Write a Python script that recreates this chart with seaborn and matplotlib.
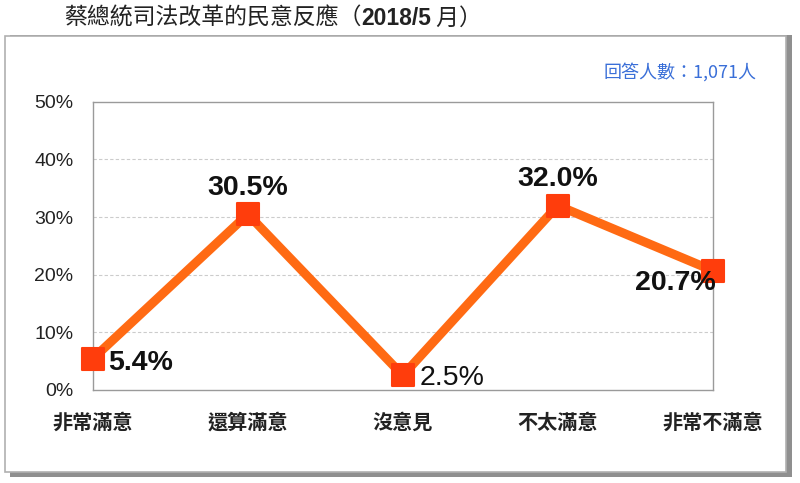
import matplotlib
matplotlib.use('Agg')
import matplotlib.pyplot as plt
import seaborn as sns
import pandas as pd
from matplotlib.patches import Rectangle
from matplotlib.ticker import FuncFormatter

# 資料
categories = ['非常滿意', '還算滿意', '沒意見', '不太滿意', '非常不滿意']
values = [5.4, 30.5, 2.5, 32.0, 20.7]
labels = ['5.4%', '30.5%', '2.5%', '32.0%', '20.7%']
title_main = '蔡總統司法改革的民意反應（'
title_bold = '2018/5'
title_end = ' 月）'
note = '回答人數：1,071人'

sns.set_theme(style='white')
plt.rcParams['font.family'] = ['Noto Sans CJK TC', 'DejaVu Sans']

df = pd.DataFrame({'cat': categories, 'pos': range(len(categories)), 'val': values})

fig = plt.figure(figsize=(8, 4.83), dpi=100)

# 外框 + 陰影
fig.patches.append(Rectangle((0.012, 0.012), 0.978, 0.915, transform=fig.transFigure,
                             facecolor='#8f8f8f', edgecolor='none', zorder=0))
fig.patches.append(Rectangle((0.006, 0.022), 0.976, 0.903, transform=fig.transFigure,
                             facecolor='white', edgecolor='#b0b0b0', lw=1.2, zorder=1))

ax = fig.add_axes([0.116, 0.193, 0.775, 0.596])
ax.set_zorder(2)
ax.patch.set_alpha(0)

sns.lineplot(data=df, x='pos', y='val', ax=ax, color='#FF6A13', lw=6.5, zorder=3)
sns.scatterplot(data=df, x='pos', y='val', ax=ax, marker='s', s=230,
                color='#FF3D0C', edgecolor='#FF3D0C', linewidth=1.5, zorder=4)
for art in ax.lines + ax.collections:
    art.set_clip_on(False)
ax.collections[-1].set_joinstyle('round')

ax.set_xlim(0, 4)
ax.set_ylim(0, 50)
ax.set_yticks([0, 10, 20, 30, 40, 50])
ax.yaxis.set_major_formatter(FuncFormatter(lambda v, p: f'{v:.0f}%'))
ax.set_xticks(range(len(categories)))
ax.set_xticklabels(categories, fontsize=14.5, fontweight='bold', color='#222222')
ax.tick_params(axis='x', pad=16, length=4, color='#999999', direction='in')
ax.tick_params(axis='y', labelsize=14, labelcolor='#222222', pad=14, length=4,
               color='#999999', direction='in')
for lab in ax.get_yticklabels():
    lab.set_family(['Liberation Sans'])
for y in [10, 20, 30, 40]:
    ax.axhline(y, color='#cccccc', lw=0.8, ls=(0, (3, 2)), zorder=1)
for s in ax.spines.values():
    s.set_color('#9a9a9a')
    s.set_linewidth(1.0)
ax.set_xlabel('')
ax.set_ylabel('')

# 數值標籤
offsets = [(11, -3, 'left', 'bold'),
           (0, 19, 'center', 'bold'),
           (12, -2, 'left', 'normal'),
           (0, 19, 'center', 'bold'),
           (2, -9, 'right', 'bold')]
for i, (v, t) in enumerate(zip(values, labels)):
    dx, dy, ha, fw = offsets[i]
    ax.annotate(t, (i, v), xytext=(dx, dy), textcoords='offset points', ha=ha, va='center',
                fontsize=20.5, fontweight=fw, color='#111111', family=['Liberation Sans'],
                zorder=5, annotation_clip=False)

# 標題
fig.canvas.draw()
r = fig.canvas.get_renderer()
ty = 0.962
t1 = fig.text(0.08, ty, title_main, fontsize=16.5, color='#222222', va='center')
bb = t1.get_window_extent(r)
t2 = fig.text(bb.x1 / 800, ty, title_bold, fontsize=16.5, fontweight='bold',
              color='#222222', va='center', family=['Liberation Sans'])
bb2 = t2.get_window_extent(r)
fig.text(bb2.x1 / 800, ty, title_end, fontsize=16.5, color='#222222', va='center')

fig.text(0.946, 0.851, note, fontsize=13, color='#3A6FD8', ha='right', va='center')

fig.savefig('out.png', dpi=100)
